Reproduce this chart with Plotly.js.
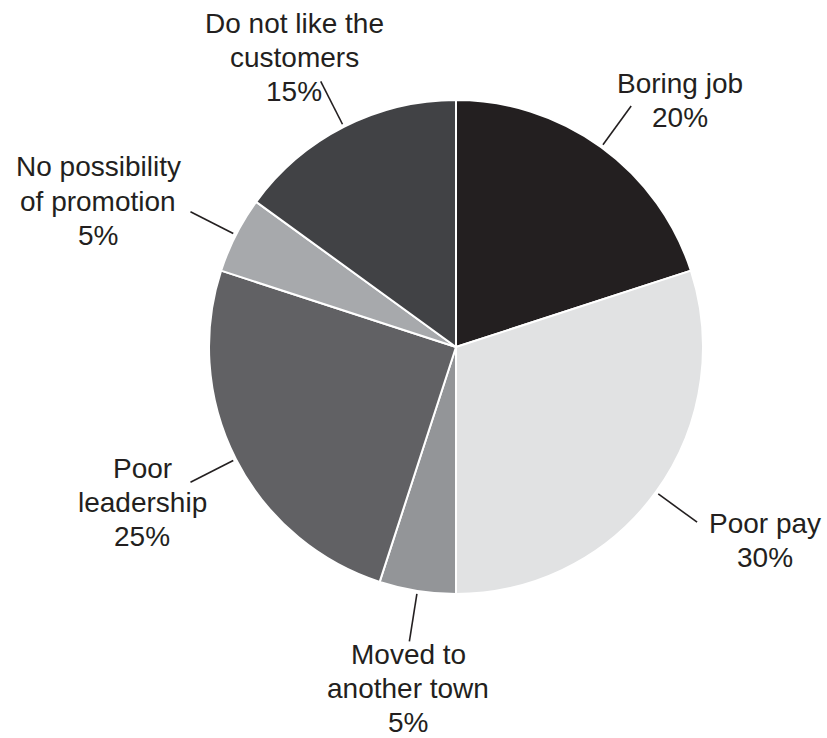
<!DOCTYPE html>
<html>
<head>
<meta charset="utf-8">
<script src="https://cdn.plot.ly/plotly-3.0.1.min.js"></script>
<style>html,body{margin:0;padding:0;background:#fff;}#chart{width:827px;height:738px;}</style>
</head>
<body>
<div id="chart"></div>
<script>
// ---- data ----
const categories = ["Boring job", "Poor pay", "Moved to another town", "Poor leadership", "No possibility of promotion", "Do not like the customers"];
const values = [20, 30, 5, 25, 5, 15];
const labelLines = [
  ["Boring job", "20%"],
  ["Poor pay", "30%"],
  ["Moved to", "another town", "5%"],
  ["Poor", "leadership", "25%"],
  ["No possibility", "of promotion", "5%"],
  ["Do not like the", "customers", "15%"]
];
const sliceColors = ["#231f20", "#e1e2e3", "#939598", "#616164", "#a7a9ac", "#414245"];

// ---- layout constants (pixels) ----
const W = 827, H = 738;
const CX = 456, CY = 347, R = 247;
const labelPx = [[680, 100], [765, 539], [408, 687], [142, 501], [98, 200], [294, 56]];
const lineGap = 34;
const txtColor = "#231f20";
const fontFam = "Liberation Sans, Arial, Helvetica, sans-serif";

const px2x = px => px / W;
const py2y = py => 1 - py / H;

const total = values.reduce((a, b) => a + b, 0);
let cum = 0;
const shapes = [], annotations = [];
values.forEach((v, i) => {
  const mid = (cum + v / 2) / total * 2 * Math.PI;
  cum += v;
  const sx = Math.sin(mid), sy = -Math.cos(mid);
  const r0 = R + 3, r1 = R + 51;
  shapes.push({
    type: "line", xref: "paper", yref: "paper",
    x0: px2x(CX + r0 * sx), y0: py2y(CY + r0 * sy),
    x1: px2x(CX + r1 * sx), y1: py2y(CY + r1 * sy),
    line: {color: txtColor, width: 1.6}
  });
  const lines = labelLines[i];
  const n = lines.length;
  lines.forEach((t, k) => {
    annotations.push({
      xref: "paper", yref: "paper",
      x: px2x(labelPx[i][0]),
      y: py2y(labelPx[i][1] + (k - (n - 1) / 2) * lineGap + 1),
      xanchor: "center", yanchor: "middle",
      text: t, showarrow: false, align: "center", borderpad: 0,
      font: {family: fontFam, size: 28, color: txtColor}
    });
  });
});

const trace = {
  type: "pie",
  labels: categories,
  values: values,
  sort: false,
  direction: "clockwise",
  rotation: 0,
  textinfo: "none",
  hoverinfo: "none",
  marker: {colors: sliceColors, line: {color: "#ffffff", width: 2}},
  domain: {x: [px2x(CX - R), px2x(CX + R)], y: [py2y(CY + R), py2y(CY - R)]}
};

const layout = {
  width: W, height: H,
  margin: {l: 0, r: 0, t: 0, b: 0},
  showlegend: false,
  paper_bgcolor: "#ffffff",
  shapes: shapes,
  annotations: annotations
};

Plotly.newPlot("chart", [trace], layout, {displayModeBar: false, staticPlot: true});
</script>
</body>
</html>
